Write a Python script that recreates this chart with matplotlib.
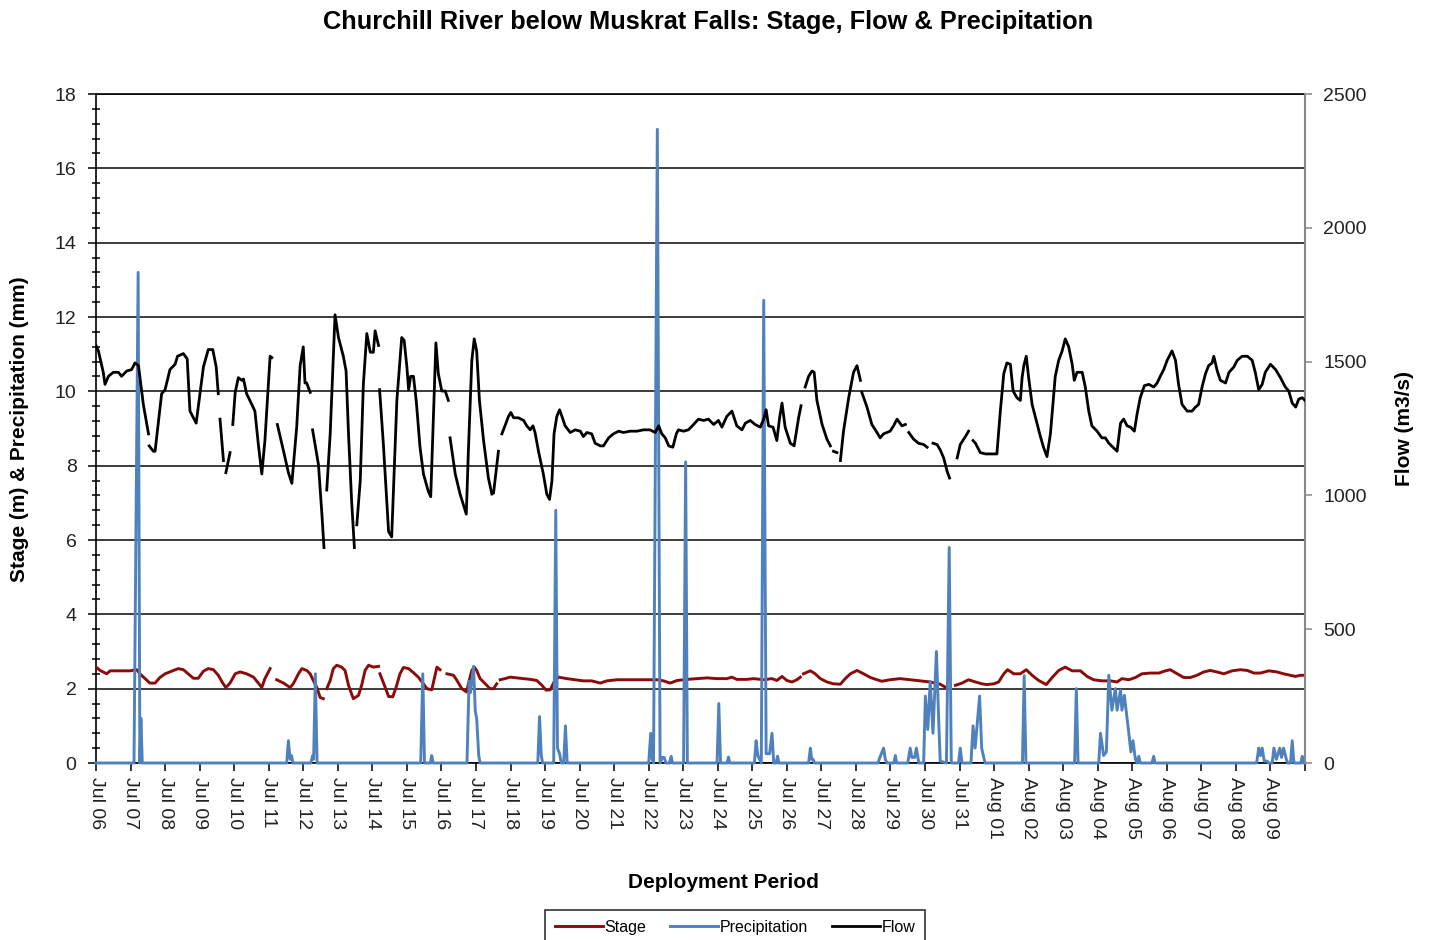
import matplotlib
matplotlib.use("Agg")
import matplotlib.pyplot as plt
import numpy as np
from matplotlib.ticker import MultipleLocator

plt.rcParams['font.family'] = ['Liberation Sans', 'DejaVu Sans']

# ---------------- data ----------------
title = "Churchill River below Muskrat Falls: Stage, Flow & Precipitation"
day_labels = ["Jul 06", "Jul 07", "Jul 08", "Jul 09", "Jul 10", "Jul 11", "Jul 12",
              "Jul 13", "Jul 14", "Jul 15", "Jul 16", "Jul 17", "Jul 18", "Jul 19",
              "Jul 20", "Jul 21", "Jul 22", "Jul 23", "Jul 24", "Jul 25", "Jul 26",
              "Jul 27", "Jul 28", "Jul 29", "Jul 30", "Jul 31", "Aug 01", "Aug 02",
              "Aug 03", "Aug 04", "Aug 05", "Aug 06", "Aug 07", "Aug 08", "Aug 09"]

# time in days since Jul 06 00:00 ; None = gap in record
stage_days = [0.00, 0.12, 0.31, 0.41, 0.70, 0.98, 1.18, 1.27, 1.42, 1.56, 1.71, 1.85, 2.00, 2.19,
              2.38, 2.53, 2.67, 2.82, 2.96, 3.11, 3.25, 3.40, 3.54, 3.67, 3.76, 3.88, 4.03, 4.17,
              4.36, 4.56, 4.70, 4.80, 4.89, 5.04, None,
              5.23, 5.43, 5.62, 5.71, 5.86, 5.96, 6.10, 6.20, 6.29, 6.39, 6.49, 6.58, None,
              6.68, 6.78, 6.87, 6.97, 7.11, 7.21, 7.31, 7.45, 7.60, 7.69, 7.79, 7.89, 8.03, 8.18, None,
              8.22, 8.37, 8.47, 8.59, 8.69, 8.80, 8.90, 9.05, 9.19, 9.33, 9.48, 9.58, 9.72, 9.87, 9.96, None,
              10.16, 10.35, 10.45, 10.59, 10.73, 10.78, 10.88, 10.95, 11.02, 11.12, 11.27, 11.41,
              11.51, 11.60, None,
              11.70, 11.84, 11.99, 12.18, 12.38, 12.57, 12.76, 12.91, 13.03, 13.15, 13.26, 13.39,
              13.63, 13.87, 14.11, 14.35, 14.60, 14.79, 15.08, 15.37, 15.66, 15.95, 16.24, 16.43,
              16.62, 16.82, 17.11, 17.40, 17.69, 17.97, 18.26, 18.41, 18.55, 18.84, 19.04, 19.33,
              19.57, 19.71, 19.86, 20.00, 20.15, 20.29, 20.39, None,
              20.48, 20.68, 20.82, 20.97, 21.16, 21.35, 21.55, 21.69, 21.84, 22.03, 22.22, 22.42,
              22.61, 22.75, 22.99, 23.28, 23.57, 23.86, 24.15, 24.44, 24.59, None,
              24.88, 25.07, 25.26, 25.46, 25.65, 25.79, 25.99, 26.13, 26.28, 26.39, 26.57, 26.76,
              26.93, 27.10, 27.29, 27.51, 27.68, 27.87, 28.06, 28.26, 28.50, 28.69, 28.88, 29.12,
              29.37, 29.56, 29.70, 29.90, 30.09, 30.28, 30.52, 30.77, 30.96, 31.10, 31.30, 31.49,
              31.68, 31.87, 32.07, 32.26, 32.45, 32.65, 32.89, 33.13, 33.33, 33.52, 33.71, 33.95,
              34.19, 34.38, 34.58, 34.72, 34.87, 35.00]
stage_m = [2.58, 2.49, 2.40, 2.48, 2.48, 2.48, 2.51, 2.40, 2.27, 2.15, 2.15, 2.30, 2.40, 2.47,
           2.54, 2.51, 2.40, 2.28, 2.28, 2.47, 2.54, 2.51, 2.36, 2.15, 2.03, 2.15, 2.40, 2.45,
           2.40, 2.31, 2.15, 2.03, 2.27, 2.54, None,
           2.24, 2.15, 2.03, 2.13, 2.40, 2.54, 2.49, 2.40, 2.22, 2.04, 1.76, 1.73, None,
           2.00, 2.22, 2.54, 2.63, 2.58, 2.49, 2.09, 1.73, 1.82, 2.09, 2.49, 2.63, 2.58, 2.60, None,
           2.40, 2.04, 1.79, 1.78, 2.04, 2.40, 2.57, 2.54, 2.43, 2.31, 2.13, 2.00, 1.97, 2.58, 2.51, None,
           2.40, 2.36, 2.22, 2.00, 1.91, 2.13, 2.49, 2.58, 2.49, 2.27, 2.13, 2.00,
           2.00, 2.13, None,
           2.24, 2.27, 2.31, 2.29, 2.27, 2.25, 2.22, 2.09, 1.96, 1.97, 2.18, 2.31,
           2.27, 2.24, 2.21, 2.21, 2.15, 2.21, 2.24, 2.24, 2.24, 2.24, 2.24, 2.21,
           2.15, 2.22, 2.25, 2.27, 2.29, 2.27, 2.27, 2.31, 2.25, 2.25, 2.27, 2.24,
           2.27, 2.22, 2.33, 2.22, 2.18, 2.24, 2.31, None,
           2.40, 2.48, 2.40, 2.27, 2.18, 2.13, 2.12, 2.27, 2.40, 2.49, 2.40, 2.30,
           2.24, 2.20, 2.24, 2.27, 2.24, 2.21, 2.18, 2.12, 2.04, None,
           2.09, 2.15, 2.24, 2.18, 2.13, 2.11, 2.13, 2.18, 2.40, 2.51, 2.40, 2.40,
           2.51, 2.36, 2.22, 2.11, 2.30, 2.49, 2.58, 2.48, 2.48, 2.33, 2.24, 2.21,
           2.21, 2.18, 2.27, 2.24, 2.30, 2.40, 2.42, 2.42, 2.48, 2.51, 2.40, 2.30,
           2.30, 2.36, 2.45, 2.49, 2.45, 2.40, 2.48, 2.51, 2.49, 2.42, 2.42, 2.48,
           2.45, 2.40, 2.36, 2.33, 2.36, 2.36]

precip_days = [0.00, 1.10, 1.22, 1.27, 1.30, 1.34, 5.52, 5.57, 5.62, 5.66, 5.70,
               6.22, 6.27, 6.30, 6.35, 6.40, 9.40, 9.46, 9.51, 9.68, 9.72, 9.76,
               10.74, 10.80, 10.84, 10.93, 10.98, 11.02, 11.08, 11.12,
               12.79, 12.84, 12.89, 12.93, 13.25, 13.31, 13.36, 13.42, 13.47, 13.54, 13.59, 13.64,
               16.00, 16.06, 16.10, 16.14, 16.25, 16.33, 16.40, 16.45, 16.50, 16.60, 16.65, 16.69,
               17.01, 17.07, 17.12, 17.98, 18.03, 18.08, 18.27, 18.31, 18.35,
               19.06, 19.11, 19.16, 19.26, 19.33, 19.40, 19.50, 19.57, 19.62, 19.69, 19.73, 19.77,
               20.63, 20.68, 20.72, 20.76, 20.80, 22.64, 22.68, 22.80, 22.85, 22.90,
               23.10, 23.14, 23.18, 23.50, 23.57, 23.62, 23.70, 23.75, 23.82,
               23.96, 24.01, 24.08, 24.15, 24.23, 24.33, 24.39, 24.44, 24.62, 24.70, 24.76,
               24.97, 25.02, 25.07, 25.33, 25.39, 25.45, 25.58, 25.64, 25.70, 25.74,
               26.82, 26.87, 26.92, 28.33, 28.38, 28.43,
               29.03, 29.08, 29.17, 29.25, 29.32, 29.41, 29.51, 29.56, 29.66, 29.70, 29.77,
               29.90, 29.96, 30.02, 30.09, 30.14, 30.19, 30.23, 30.57, 30.62, 30.66,
               33.60, 33.66, 33.71, 33.76, 33.82, 33.90, 33.95, 34.05, 34.10, 34.17, 34.27,
               34.32, 34.38, 34.46, 34.50, 34.58, 34.63, 34.68, 34.88, 34.92, 34.96, 35.00]
precip_mm = [0, 0, 13.2, 0, 1.2, 0, 0, 0.6, 0.1, 0.2, 0,
             0, 0.2, 0.1, 2.4, 0, 0, 2.4, 0, 0, 0.2, 0,
             0, 2.2, 1.9, 2.6, 1.4, 1.2, 0.2, 0,
             0, 1.25, 0.2, 0, 0, 6.8, 0.4, 0.25, 0, 0, 1.0, 0,
             0, 0.8, 0.1, 0, 17.05, 0, 0.15, 0.15, 0, 0, 0.18, 0,
             0, 8.1, 0, 0, 1.6, 0, 0, 0.16, 0,
             0, 0.6, 0.2, 0, 12.45, 0.25, 0.25, 0.8, 0, 0, 0.18, 0,
             0, 0.4, 0.1, 0.1, 0, 0, 0.12, 0.4, 0.1, 0,
             0, 0.2, 0, 0, 0.4, 0.15, 0.15, 0.4, 0,
             0, 1.8, 0.9, 2.2, 0.8, 3.0, 1.3, 0.05, 0, 5.8, 0,
             0, 0.4, 0, 0, 1.0, 0.4, 1.8, 0.4, 0.15, 0,
             0, 2.35, 0, 0, 2.0, 0,
             0, 0.8, 0.2, 0.3, 2.36, 1.42, 2.0, 1.42, 1.96, 1.42, 1.82,
             0.8, 0.3, 0.6, 0.1, 0, 0.18, 0, 0, 0.18, 0,
             0, 0.4, 0.2, 0.4, 0.05, 0.05, 0, 0, 0.4, 0.1, 0.4,
             0.15, 0.4, 0.1, 0, 0, 0.6, 0, 0, 0.18, 0, 0]

flow_days = [0.00, 0.07, 0.21, 0.26, 0.36, 0.50, 0.65, 0.74, 0.89, 1.03, 1.13, 1.23, 1.37, 1.52, None,
             1.54, 1.66, 1.71, 1.90, 2.00, 2.14, 2.29, 2.36, 2.53, 2.64, 2.72, 2.90, 3.11, 3.25,
             3.38, 3.48, 3.54, None, 3.59, 3.69, None, 3.76, 3.88, None,
             3.96, 4.03, 4.12, 4.22, 4.27, 4.36, 4.51, 4.60, 4.70, 4.80, 4.89, 5.04, 5.09, None,
             5.25, 5.43, 5.57, 5.67, 5.81, 5.91, 6.00, 6.05, 6.10, 6.20, None,
             6.27, 6.44, 6.54, 6.60, None,
             6.68, 6.78, 6.92, 7.02, 7.16, 7.24, 7.31, 7.40, 7.48, None,
             7.55, 7.65, 7.74, 7.84, 7.94, 8.03, 8.08, 8.18, None,
             8.21, 8.32, 8.47, 8.56, 8.71, 8.85, 8.92, 9.00, 9.05, 9.11, 9.19, 9.27, 9.38, 9.48,
             9.62, 9.69, 9.75, 9.84, 9.91, 10.01, 10.11, 10.20, None,
             10.25, 10.40, 10.54, 10.72, 10.78, 10.88, 10.95, 11.02, 11.10, 11.22, 11.36, 11.46, None,
             11.51, 11.65, None,
             11.75, 11.84, 11.94, 12.01, 12.09, 12.23, 12.38, 12.47, 12.57, 12.65, 12.71, 12.81,
             12.95, 13.05, 13.13, 13.20, 13.26, 13.34, 13.42, 13.49, 13.58, 13.73, 13.87, 14.02,
             14.11, 14.21, 14.35, 14.45, 14.60, 14.69, 14.84, 14.98, 15.13, 15.27, 15.46, 15.66,
             15.85, 16.04, 16.19, 16.29, 16.38, 16.48, 16.58, 16.70, 16.80, 16.86, 17.01, 17.15,
             17.30, 17.44, 17.59, 17.73, 17.88, 18.02, 18.12, 18.26, 18.41, 18.55, 18.70, 18.80,
             18.94, 19.08, 19.23, 19.33, 19.40, 19.47, 19.60, 19.71, 19.79, 19.86, 19.95, 20.10,
             20.21, 20.34, 20.41, None,
             20.53, 20.63, 20.73, 20.79, 20.87, 21.02, 21.16, 21.26, None, 21.35, 21.45, None,
             21.55, 21.64, 21.79, 21.93, 22.03, 22.13, None,
             22.17, 22.32, 22.46, 22.61, 22.70, 22.80, 22.99, 23.09, 23.19, 23.33, 23.43, None,
             23.53, 23.67, 23.81, 23.96, 24.06, None,
             24.23, 24.35, 24.44, 24.54, 24.64, 24.71, None,
             24.93, 25.02, 25.17, 25.26, None,
             25.39, 25.46, 25.60, 25.75, 25.89, 25.99, 26.08, 26.18, 26.28, 26.37, 26.47, 26.55,
             26.66, 26.76, 26.81, 26.86, 26.93, 27.00, 27.10, 27.24, 27.34, 27.43, 27.53, 27.63,
             27.77, 27.87, 27.97, 28.06, 28.16, 28.26, 28.32, 28.40, 28.55, 28.64, 28.74, 28.83,
             28.98, 29.12, 29.22, 29.32, 29.44, 29.56, 29.66, 29.75, 29.85, 29.95, 30.06, 30.14,
             30.23, 30.35, 30.48, 30.62, 30.72, 30.81, 30.91, 31.01, 31.15, 31.25, 31.34, 31.44,
             31.59, 31.73, 31.83, 31.92, 32.02, 32.12, 32.21, 32.31, 32.36, 32.46, 32.55, 32.70,
             32.80, 32.94, 33.04, 33.18, 33.33, 33.47, 33.56, 33.66, 33.76, 33.85, 34.00, 34.15,
             34.29, 34.43, 34.53, 34.63, 34.73, 34.82, 34.92, 35.00]
flow_m3s = [1560, 1540, 1460, 1415, 1445, 1460, 1460, 1445, 1465, 1470, 1495, 1485, 1340, 1230, None,
            1185, 1165, 1165, 1380, 1395, 1470, 1490, 1520, 1530, 1510, 1315, 1270, 1480, 1545,
            1545, 1480, 1380, None, 1285, 1130, None, 1085, 1160, None,
            1265, 1385, 1440, 1430, 1435, 1380, 1340, 1315, 1190, 1080, 1205, 1520, 1515, None,
            1265, 1165, 1085, 1045, 1255, 1485, 1555, 1420, 1420, 1385, None,
            1245, 1115, 930, 805, None,
            1020, 1230, 1675, 1590, 1520, 1465, 1230, 980, 805, None,
            890, 1055, 1415, 1605, 1535, 1535, 1615, 1560, None,
            1395, 1190, 865, 845, 1355, 1590, 1580, 1480, 1395, 1445, 1445, 1355, 1180, 1080,
            1015, 995, 1230, 1570, 1455, 1390, 1390, 1355, None,
            1215, 1080, 1005, 930, 1165, 1505, 1585, 1540, 1355, 1205, 1065, 1005, None,
            1010, 1165, None,
            1230, 1260, 1295, 1310, 1290, 1290, 1280, 1260, 1245, 1260, 1235, 1165,
            1080, 1005, 985, 1055, 1230, 1295, 1320, 1295, 1260, 1235, 1245, 1240,
            1220, 1235, 1230, 1195, 1185, 1185, 1215, 1230, 1240, 1235, 1240, 1240,
            1245, 1245, 1235, 1260, 1230, 1215, 1185, 1180, 1230, 1245, 1240, 1245,
            1265, 1285, 1280, 1285, 1265, 1280, 1255, 1295, 1315, 1260, 1245, 1270,
            1280, 1265, 1255, 1285, 1320, 1260, 1255, 1205, 1290, 1345, 1255, 1195,
            1185, 1290, 1335, None,
            1405, 1445, 1465, 1460, 1355, 1265, 1210, 1185, None, 1165, 1160, None,
            1130, 1240, 1365, 1460, 1485, 1430, None,
            1385, 1330, 1265, 1235, 1215, 1230, 1240, 1260, 1285, 1260, 1265, None,
            1235, 1210, 1195, 1190, 1180, None,
            1195, 1190, 1170, 1140, 1090, 1065, None,
            1140, 1190, 1220, 1240, None,
            1205, 1195, 1160, 1155, 1155, 1155, 1155, 1315, 1455, 1495, 1490, 1390,
            1365, 1355, 1440, 1485, 1520, 1440, 1340, 1270, 1220, 1180, 1145, 1230,
            1445, 1505, 1540, 1585, 1555, 1490, 1430, 1460, 1460, 1405, 1315, 1260,
            1240, 1215, 1215, 1195, 1180, 1165, 1270, 1285, 1260, 1255, 1240, 1305,
            1365, 1410, 1415, 1405, 1420, 1445, 1470, 1505, 1540, 1505, 1415, 1340,
            1315, 1315, 1330, 1340, 1405, 1455, 1485, 1495, 1520, 1465, 1430, 1420,
            1460, 1480, 1505, 1520, 1520, 1505, 1460, 1395, 1415, 1460, 1490, 1470,
            1440, 1405, 1390, 1345, 1330, 1360, 1365, 1355]

# ---------------- figure ----------------
W, H = 1430, 940
fig = plt.figure(figsize=(W / 100, H / 100), dpi=100)
L, R, T, B = 96, 1305, 94, 763
ax = fig.add_axes([L / W, 1 - B / H, (R - L) / W, (B - T) / H])
ax2 = ax.twinx()

st_t = np.array(stage_days, dtype=float)
st_v = np.array(stage_m, dtype=float)
pr_t = np.array(precip_days, dtype=float)
pr_v = np.array(precip_mm, dtype=float)
fl_t = np.array(flow_days, dtype=float)
fl_v = np.array(flow_m3s, dtype=float)

h_stage, = ax.plot(st_t, st_v, color='#8B0A0A', lw=2.1, zorder=3, label='Stage')
h_prec, = ax.plot(pr_t, pr_v, color='#4F81BD', lw=2.1, zorder=4, label='Precipitation',
                  clip_on=False)
h_flow, = ax2.plot(fl_t, fl_v, color='black', lw=2.0, zorder=5, label='Flow')

ax.set_xlim(0, 35)
ax.set_ylim(0, 18)
ax2.set_ylim(0, 2500)

# left axis
ax.set_yticks(np.arange(0, 19, 2))
ax.yaxis.set_minor_locator(MultipleLocator(0.4))
ax.yaxis.grid(True, which='major', color='#1a1a1a', lw=1.2)
ax.set_axisbelow(True)
ax.tick_params(axis='y', which='major', direction='out', length=6, width=1.1,
               labelsize=14, pad=8, colors='black', labelcolor='#222222')
ax.tick_params(axis='y', which='minor', direction='inout', length=6, width=1.1, colors='black')

# x axis
ax.set_xticks(np.arange(0, 36))
ax.set_xticklabels(day_labels + [''], rotation=270, fontsize=14, color='#222222')
ax.tick_params(axis='x', direction='out', length=6, width=1.1, pad=4)
for lab in ax.get_xticklabels():
    lab.set_verticalalignment('top')
    lab.set_horizontalalignment('center')

# right axis
ax2.set_yticks(np.arange(0, 2501, 500))
ax2.tick_params(axis='y', direction='out', length=5, width=1.1, colors='#888888',
                labelsize=14, labelcolor='#222222', pad=8)

for s in ['left', 'top', 'bottom']:
    ax.spines[s].set_color('black')
    ax.spines[s].set_linewidth(1.2)
ax.spines['right'].set_visible(False)
for s in ['left', 'top', 'bottom']:
    ax2.spines[s].set_visible(False)
ax2.spines['right'].set_color('#888888')
ax2.spines['right'].set_linewidth(1.5)

# texts
fig.text(708 / W, 1 - 22 / H, title, ha='center', va='center', fontsize=18.3, fontweight='bold')
fig.text(20 / W, 1 - 429 / H, 'Stage (m) & Precipitation (mm)', rotation=90,
         ha='center', va='center', fontsize=15, fontweight='bold')
fig.text(1405 / W, 1 - 428 / H, 'Flow (m3/s)', rotation=90,
         ha='center', va='center', fontsize=15, fontweight='bold')
fig.text(723 / W, 1 - 883 / H, 'Deployment Period', ha='center', va='center',
         fontsize=15, fontweight='bold')

leg = fig.legend([h_stage, h_prec, h_flow], ['Stage', 'Precipitation', 'Flow'],
                 loc='upper center', bbox_to_anchor=(735 / W, 1 - 902 / H), ncol=3,
                 frameon=True, fancybox=False, edgecolor='black', fontsize=11.5,
                 handlelength=3.0, handletextpad=0.1, columnspacing=1.5, borderpad=0.6)
leg.get_frame().set_linewidth(1.2)

fig.savefig('out.png', dpi=100, facecolor='white')
